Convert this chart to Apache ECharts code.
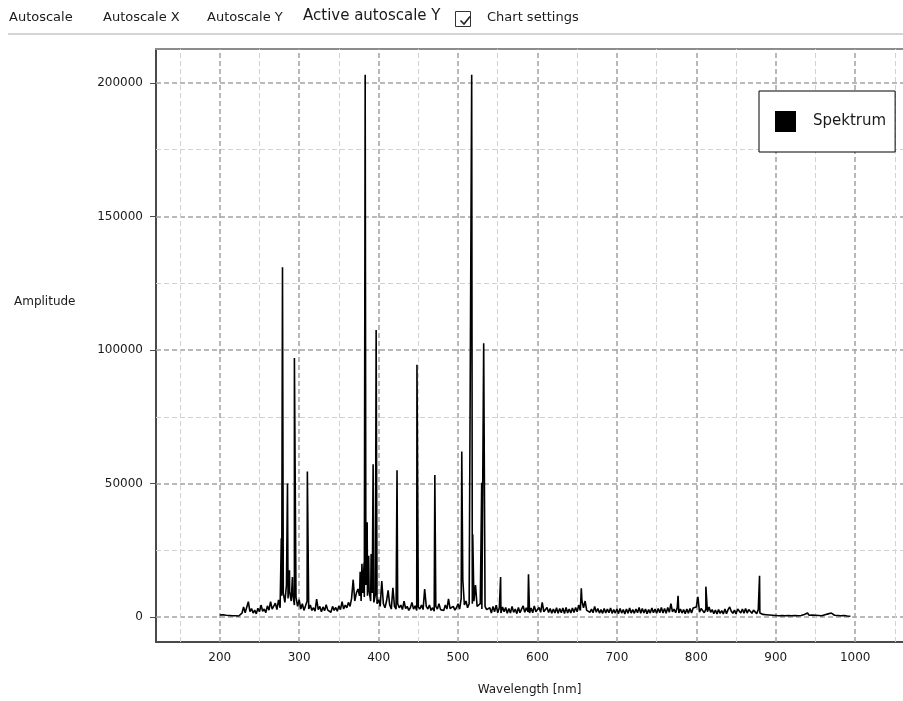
<!DOCTYPE html>
<html>
<head>
<meta charset="utf-8">
<script src="https://cdn.jsdelivr.net/npm/echarts@6/dist/echarts.min.js"></script>
<style>
  html, body { margin: 0; padding: 0; background: #fff; }
  #chart { width: 903px; height: 701px; }
</style>
</head>
<body>
<div id="chart"></div>
<script>
// baseline of the spectrum, sampled every 2 nm from 200 nm
const wlStart = 200;
const wlStep = 2;
const baseAmp = [
  800, 600, 900, 500, 700, 400, 600, 1200, 500, 700,        // 200
  500, 700, 400, 900, 1500, 3800, 1600, 1400, 5800, 2000,   // 220
  3200, 1500, 2600, 1200, 3300, 2000, 4500, 2200, 3000, 1700, // 240
  4200, 2600, 5800, 3000, 3600, 5200, 2800, 6400, 3500, 8000, // 260
  9000, 5500, 12000, 7000, 9500, 6000, 8500, 4500, 7500, 4000, // 280
  6500, 3000, 5000, 2500, 4200, 6000, 3000, 4500, 2500, 3500, // 300
  2200, 6700, 2800, 4000, 2000, 3800, 2400, 4600, 2600, 3200, // 320
  1800, 4000, 2500, 3600, 2200, 4200, 2800, 5800, 3000, 4500, // 340
  3500, 5500, 4000, 7000, 14000, 6000, 9000, 10500, 8000, 6000, // 360
  9000, 7500, 12000, 8000, 10000, 6000, 9000, 5500, 8500, 5000, // 380
  6500, 4000, 13500, 5000, 3500, 6000, 10000, 4500, 3000, 11000, // 400
  4000, 3000, 5000, 3500, 4500, 2800, 6000, 3200, 4000, 2500, // 420
  3500, 5500, 3000, 4200, 2500, 3800, 3000, 4500, 2800, 10500, // 440
  4000, 3000, 4500, 2500, 3500, 2200, 4000, 3000, 5000, 2800, // 460
  3500, 2500, 4500, 3000, 6800, 3200, 2800, 4000, 2600, 3500, // 480
  5000, 3000, 7000, 14000, 4500, 6000, 3500, 5000, 4500, 5000, // 500
  6000, 12000, 4000, 3500, 5000, 3000, 2500, 4000, 2800, 3200, // 520
  3500, 1500, 4000, 2000, 4500, 1600, 3500, 1500, 3800, 2000, // 540
  3600, 1400, 3200, 1500, 4000, 1800, 3000, 1300, 3600, 1600, // 560
  3000, 4200, 1800, 3500, 2000, 1500, 3400, 1600, 4200, 2000, // 580
  1800, 3600, 1800, 5500, 2000, 1500, 3600, 1700, 3200, 1400, // 600
  3000, 1500, 3500, 1400, 3200, 1600, 3400, 1300, 3600, 1500, // 620
  3000, 1500, 3400, 1700, 3600, 2000, 4500, 2500, 6000, 3500, // 640
  6000, 2500, 3200, 1800, 3000, 1600, 4000, 1800, 3200, 1500, // 660
  2800, 1400, 3200, 1500, 3000, 1600, 3400, 1400, 2800, 1500, // 680
  3000, 1300, 3200, 1500, 2800, 1200, 3000, 1400, 3400, 1500, // 700
  2800, 1400, 3000, 1600, 3600, 1400, 3200, 1500, 3000, 1300, // 720
  2800, 1500, 3400, 1600, 3000, 1400, 3200, 1600, 3600, 1500, // 740
  3200, 1400, 3600, 1800, 5000, 2000, 3000, 1600, 3600, 1500, // 760
  3000, 1500, 2800, 1300, 3000, 1400, 3200, 1500, 3400, 3000, // 780
  3800, 3500, 1800, 3200, 3600, 1600, 3000, 2000, 3800, 1800, // 800
  2800, 1300, 2600, 1200, 2800, 1400, 2400, 1200, 3000, 1300, // 820
  2800, 3800, 2200, 1400, 2600, 1200, 3000, 2800, 1500, 3000, // 840
  1400, 3200, 1500, 2800, 3200, 1400, 2600, 3000, 1300, 2800, // 860
  1500, 1200, 1000, 800, 900, 700, 800, 600, 700, 900,      // 880
  600, 800, 500, 700, 600, 900, 500, 700, 600, 800,         // 900
  500, 700, 600, 800, 500, 900, 600, 700, 1000, 600,        // 920
  1500, 700, 600, 800, 500, 700, 1000, 600, 800, 500,       // 940
  700, 900, 600, 1200, 1000, 1500, 800, 700, 1100, 600,     // 960
  800, 500, 700, 600, 500, 400, 500, 300                    // 980
];

// emission lines
const lineWl = [277.5, 279, 285.3, 287.8, 291.5, 294, 310.3, 376.8, 379, 381.8, 383.1, 385.6,
  387.5, 390.6, 393.1, 396.9, 423.2, 448.3, 470.8, 504.7, 517.2, 518.5, 529.8, 532.3,
  553.6, 588.7, 655.2, 777, 802, 812, 879.6];
const lineAmp = [29500, 131000, 50000, 17500, 15000, 97000, 54500, 17000, 20000, 20500, 203000, 35500,
  23000, 23600, 57200, 107500, 55000, 94500, 53200, 62000, 203000, 31000, 50300, 102500,
  15000, 16000, 10800, 8000, 7600, 11400, 15500];

const xTicks = [200, 300, 400, 500, 600, 700, 800, 900, 1000];
const xMinorGrid = [150, 250, 350, 450, 550, 650, 750, 850, 950, 1050];
const yTicks = [0, 50000, 100000, 150000, 200000];
const yMinorGrid = [25000, 75000, 125000, 175000];

const seriesName = 'Spektrum';

// merge baseline and lines into one sorted table
let points = baseAmp.map((a, i) => [wlStart + i * wlStep, a]);
for (let i = 0; i < lineWl.length; i++) points.push([lineWl[i], lineAmp[i]]);
points.sort((a, b) => a[0] - b[0]);

const majorStyle = { color: '#a3a3a3', width: 1.5, type: [5, 3] };
const minorStyle = { color: '#d2d2d2', width: 1, type: [5, 3] };
const gridMarks = [];
yTicks.forEach(v => gridMarks.push({ yAxis: v, lineStyle: majorStyle }));
yMinorGrid.forEach(v => gridMarks.push({ yAxis: v, lineStyle: minorStyle }));
xTicks.forEach(v => gridMarks.push({ xAxis: v, lineStyle: majorStyle }));
xMinorGrid.forEach(v => gridMarks.push({ xAxis: v, lineStyle: minorStyle }));

const textColor = '#1a1a1a';
const font = 'DejaVu Sans';

const chart = echarts.init(document.getElementById('chart'));

chart.setOption({
  animation: false,
  backgroundColor: '#fff',
  textStyle: { fontFamily: font },
  grid: { left: 156, top: 49, right: -3, bottom: 57 },
  legend: {
    data: [{ name: seriesName, icon: 'rect' }],
    left: 759, top: 91, z: 100, zlevel: 1,
    orient: 'vertical',
    padding: [20, 9, 20, 16],
    itemWidth: 21, itemHeight: 21,
    backgroundColor: '#fff',
    borderColor: '#000', borderWidth: 1,
    selectedMode: false,
    textStyle: { fontSize: 15, color: textColor, padding: [0, 0, 0, 12] }
  },
  xAxis: [{
    type: 'value', min: 119.75, max: 1060.2,
    name: 'Wavelength [nm]', nameLocation: 'middle', nameGap: 42,
    nameTextStyle: { fontSize: 12, color: textColor },
    axisLine: { show: true, onZero: false, lineStyle: { color: '#4a4a4a', width: 2 } },
    axisTick: { show: false },
    splitLine: { show: false },
    axisLabel: { customValues: xTicks, margin: 10, fontSize: 12, color: textColor, formatter: v => String(v) }
  }, {
    type: 'value', position: 'top', min: 119.75, max: 1060.2,
    axisLine: { show: true, onZero: false, lineStyle: { color: '#8c8c8c', width: 2 } },
    axisTick: { show: false }, axisLabel: { show: false }, splitLine: { show: false }
  }],
  yAxis: {
    type: 'value', min: -9328, max: 212687,
    axisLine: { show: true, onZero: false, lineStyle: { color: '#4a4a4a', width: 2 } },
    axisTick: { show: true, customValues: yTicks, length: 6, lineStyle: { color: '#4a4a4a' } },
    splitLine: { show: false },
    axisLabel: { customValues: yTicks, margin: 13, fontSize: 12, color: textColor, formatter: v => String(v) }
  },
  graphic: [
    { type: 'text', left: 9, top: 11, style: { text: 'Autoscale', font: '13px ' + font, fill: textColor } },
    { type: 'text', left: 103, top: 11, style: { text: 'Autoscale X', font: '13px ' + font, fill: textColor } },
    { type: 'text', left: 207, top: 11, style: { text: 'Autoscale Y', font: '13px ' + font, fill: textColor } },
    { type: 'text', left: 303, top: 9, style: { text: 'Active autoscale Y', font: '15px ' + font, fill: textColor } },
    { type: 'rect', left: 455, top: 11, shape: { width: 15, height: 15 }, style: { fill: '#fff', stroke: '#333', lineWidth: 1 } },
    { type: 'polyline', left: 458, top: 14, shape: { points: [[0, 5], [3.5, 8.5], [9.5, 1]] }, style: { stroke: '#222', lineWidth: 1.6, fill: null } },
    { type: 'text', left: 487, top: 11, style: { text: 'Chart settings', font: '13px ' + font, fill: textColor } },
    { type: 'rect', left: 8, top: 33, shape: { width: 895, height: 2 }, style: { fill: '#d4d4d4' } },
    { type: 'text', left: 14, top: 296, style: { text: 'Amplitude', font: '12px ' + font, fill: textColor } }
  ],
  series: [{
    name: 'grid', type: 'line', data: [], z: 1, silent: true,
    markLine: { z: 1, silent: true, symbol: ['none', 'none'], label: { show: false }, animation: false, data: gridMarks }
  }, {
    name: seriesName, type: 'line', z: 3,
    data: points,
    showSymbol: false, symbol: 'none', sampling: false,
    color: '#000',
    lineStyle: { color: '#000', width: 1.6 }
  }]
});
</script>
</body>
</html>
